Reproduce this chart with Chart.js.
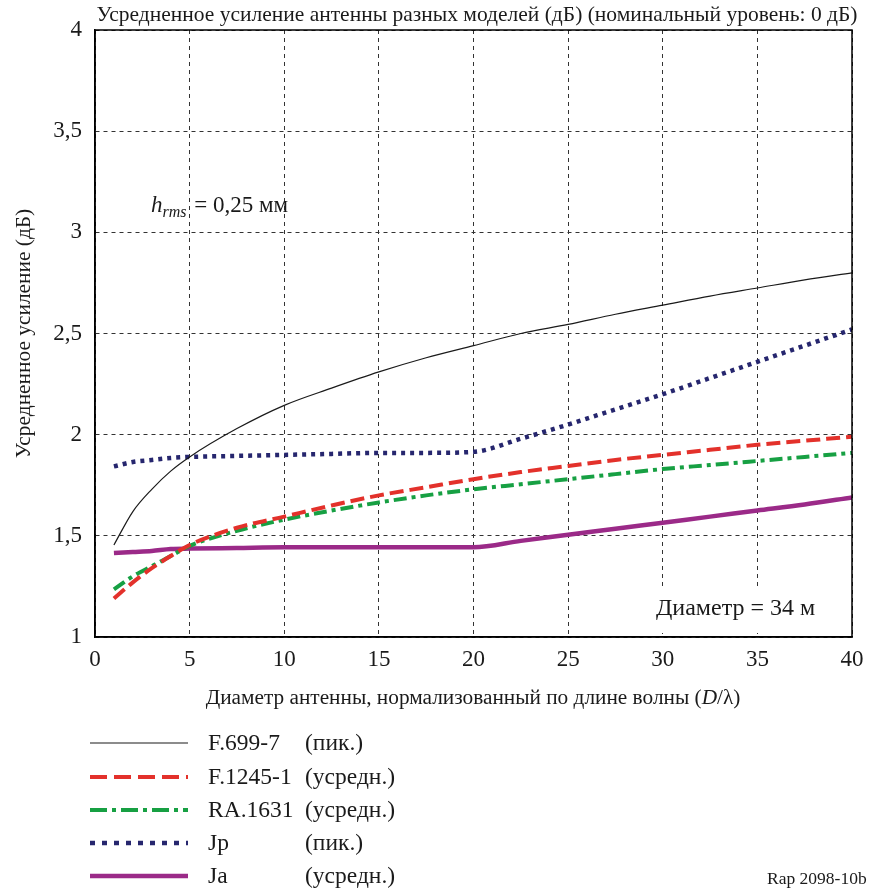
<!DOCTYPE html>
<html>
<head>
<meta charset="utf-8">
<script src="https://cdn.jsdelivr.net/npm/chart.js@4.4.1/dist/chart.umd.min.js"></script>
<style>
  html, body { margin: 0; padding: 0; background: #fff; }
  #wrap { width: 869px; height: 895px; }
</style>
</head>
<body>
<div id="wrap"><canvas id="chart" width="869" height="895"></canvas></div>
<script>
const dLambda = [1, 2, 3, 4, 5, 7.5, 10, 12.5, 15, 17.5, 20, 22.5, 25, 27.5, 30, 32.5, 35, 37.5, 40];

const f699  = [1.455, 1.62, 1.73, 1.82, 1.89, 2.03, 2.145, 2.23, 2.31, 2.38, 2.44, 2.50, 2.545, 2.595, 2.64, 2.685, 2.725, 2.765, 2.80];
const f1245 = [1.19, 1.27, 1.34, 1.40, 1.455, 1.54, 1.595, 1.65, 1.70, 1.74, 1.78, 1.815, 1.845, 1.875, 1.90, 1.925, 1.95, 1.97, 1.99];
const ra1631 = [1.235, 1.30, 1.35, 1.40, 1.45, 1.525, 1.58, 1.625, 1.665, 1.70, 1.73, 1.755, 1.78, 1.805, 1.83, 1.85, 1.87, 1.89, 1.91];
const jp    = [1.843, 1.865, 1.875, 1.885, 1.89, 1.895, 1.90, 1.905, 1.91, 1.91, 1.915, 1.98, 2.05, 2.125, 2.20, 2.28, 2.36, 2.44, 2.52];
const ja    = [1.415, 1.42, 1.425, 1.435, 1.437, 1.44, 1.443, 1.443, 1.443, 1.443, 1.443, 1.475, 1.505, 1.535, 1.565, 1.595, 1.625, 1.655, 1.69];

const seriesNames = ['F.699-7', 'F.1245-1', 'RA.1631', 'Jp', 'Ja'];
const seriesKinds = ['(пик.)', '(усредн.)', '(усредн.)', '(пик.)', '(усредн.)'];

const xTicks = [0, 5, 10, 15, 20, 25, 30, 35, 40];
const yTicks = [1, 1.5, 2, 2.5, 3, 3.5, 4];

const SERIF = '"Liberation Serif", "DejaVu Serif", serif';
const INK = '#1a1a1a';

function pts(ys){ return dLambda.map((x, i) => ({ x, y: ys[i] })); }

const styles = [
  { color: '#1a1a1a', width: 1.2, dash: [],            legendDash: [] },
  { color: '#e3312b', width: 4,   dash: [14, 6],       legendDash: [17, 7] },
  { color: '#17a043', width: 4,   dash: [13, 5, 4, 5], legendDash: [17, 5, 4, 5] },
  { color: '#26266e', width: 4.5, dash: [4, 5],        legendDash: [5, 7] },
  { color: '#9b2a88', width: 4.5, dash: [],            legendDash: [] }
];
const allSeries = [f699, f1245, ra1631, jp, ja];

const datasets = allSeries.map((ys, i) => ({
  label: seriesNames[i],
  data: pts(ys),
  borderColor: styles[i].color,
  borderWidth: styles[i].width,
  borderDash: styles[i].dash,
  borderCapStyle: 'butt',
  pointRadius: 0,
  fill: false,
  cubicInterpolationMode: 'monotone'
}));

const deco = {
  id: 'deco',
  beforeDatasetsDraw(chart){
    const ctx = chart.ctx;
    // white label box that hides the grid behind "Диаметр = 34 м"
    ctx.save();
    ctx.fillStyle = '#fff';
    ctx.fillRect(643, 590, 184, 43);
    ctx.restore();
  },
  afterDatasetsDraw(chart){
    const { ctx, chartArea: a } = chart;
    ctx.save();
    ctx.strokeStyle = '#000';
    ctx.lineWidth = 1.5;
    ctx.setLineDash([]);
    ctx.strokeRect(a.left, a.top, a.right - a.left, a.bottom - a.top);
    ctx.restore();
  },
  afterDraw(chart){
    const ctx = chart.ctx;
    ctx.save();
    ctx.fillStyle = INK;
    ctx.textBaseline = 'alphabetic';

    // top title
    ctx.font = '21.5px ' + SERIF;
    ctx.textAlign = 'center';
    ctx.fillText('Усредненное усиление антенны разных моделей (дБ) (номинальный уровень: 0 дБ)', 477, 21);

    // x axis title with italic D/λ
    ctx.textAlign = 'left';
    const parts = [
      ['Диаметр антенны, нормализованный по длине волны (', ''],
      ['D', 'italic '],
      ['/', ''],
      ['λ', ''],
      [')', '']
    ];
    let total = 0;
    parts.forEach(p => { ctx.font = p[1] + '21.3px ' + SERIF; total += ctx.measureText(p[0]).width; });
    let x = 473 - total / 2;
    parts.forEach(p => { ctx.font = p[1] + '21.3px ' + SERIF; ctx.fillText(p[0], x, 704); x += ctx.measureText(p[0]).width; });

    // h_rms annotation
    x = 151;
    ctx.font = 'italic 23px ' + SERIF;
    ctx.fillText('h', x, 212); x += ctx.measureText('h').width;
    ctx.font = 'italic 16px ' + SERIF;
    ctx.fillText('rms', x, 217); x += ctx.measureText('rms').width + 2;
    ctx.font = '23px ' + SERIF;
    ctx.fillText(' = 0,25 мм', x, 212);

    // diameter annotation
    ctx.font = '24px ' + SERIF;
    ctx.fillText('Диаметр = 34 м', 656, 615);

    // legend
    const rowY = [743, 777, 810, 843, 876];
    rowY.forEach((y, i) => {
      const s = styles[i];
      ctx.save();
      ctx.strokeStyle = s.color;
      ctx.lineWidth = s.width;
      ctx.lineCap = 'butt';
      ctx.setLineDash(s.legendDash);
      ctx.beginPath();
      ctx.moveTo(90, y);
      ctx.lineTo(188, y);
      ctx.stroke();
      ctx.restore();
      ctx.font = '23.5px ' + SERIF;
      ctx.textBaseline = 'middle';
      ctx.fillText(seriesNames[i], 208, y + 1);
      ctx.fillText(seriesKinds[i], 305, y + 1);
    });

    // figure reference
    ctx.textBaseline = 'alphabetic';
    ctx.font = '17.5px ' + SERIF;
    ctx.fillText('Rap 2098-10b', 767, 884);
    ctx.restore();
  }
};

new Chart(document.getElementById('chart').getContext('2d'), {
  type: 'line',
  data: { datasets },
  options: {
    responsive: false,
    animation: false,
    events: [],
    layout: { padding: { left: 0, top: 30, right: 17, bottom: 0 } },
    scales: {
      x: {
        type: 'linear',
        min: xTicks[0],
        max: xTicks[xTicks.length - 1],
        afterFit(s){ s.height = 258; s.paddingLeft = 0; s.paddingRight = 0; },
        afterBuildTicks(s){ s.ticks = xTicks.map(v => ({ value: v })); },
        ticks: { color: INK, padding: 9, font: { family: SERIF, size: 23 }, callback: v => String(v) },
        grid: { color: '#333', lineWidth: 1, drawTicks: false },
        border: { display: true, color: '#000', width: 1.5, dash: [4, 4] }
      },
      y: {
        type: 'linear',
        min: yTicks[0],
        max: yTicks[yTicks.length - 1],
        afterFit(s){ s.width = 95; s.paddingTop = 0; s.paddingBottom = 0; },
        afterBuildTicks(s){ s.ticks = yTicks.map(v => ({ value: v })); },
        ticks: { color: INK, padding: 13, font: { family: SERIF, size: 23 }, callback: v => String(v).replace('.', ',') },
        grid: { color: '#333', lineWidth: 1, drawTicks: false },
        border: { display: true, color: '#000', width: 1.5, dash: [4, 4] },
        title: {
          display: true,
          text: 'Усредненное усиление (дБ)',
          color: INK,
          font: { family: SERIF, size: 21.4 },
          padding: { top: 12, bottom: 0 }
        }
      }
    },
    plugins: {
      legend: { display: false },
      tooltip: { enabled: false },
      title: { display: false }
    }
  },
  plugins: [deco]
});
</script>
</body>
</html>
